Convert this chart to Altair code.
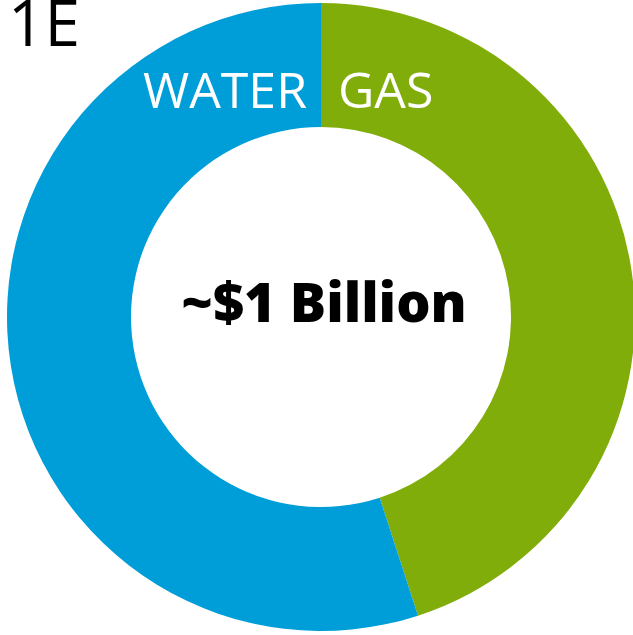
import altair as alt
import pandas as pd

categories = ["GAS", "WATER"]
shares = [45, 55]
colors = ["#80AD09", "#009ED8"]
center_label = "~$1 Billion"
panel_label = "1E"

df = pd.DataFrame({"category": categories, "share": shares, "order": [0, 1]})

base = alt.Chart(df)

donut = base.mark_arc(radius=314, radius2=190, stroke=None).encode(
    theta=alt.Theta("share:Q", stack=True),
    order=alt.Order("order:Q"),
    color=alt.Color("category:N", scale=alt.Scale(domain=categories, range=colors), legend=None),
    x=alt.value(321),
    y=alt.value(317),
)

water = alt.Chart(pd.DataFrame({"t": ["WATER"]})).mark_text(
    font="Open Sans", fontSize=50, color="white", align="right", baseline="alphabetic"
).encode(text="t:N", x=alt.value(307), y=alt.value(108))
gas = alt.Chart(pd.DataFrame({"t": ["GAS"]})).mark_text(
    font="Open Sans", fontSize=50, color="white", align="left", baseline="alphabetic"
).encode(text="t:N", x=alt.value(338), y=alt.value(108))
center = alt.Chart(pd.DataFrame({"t": [center_label]})).mark_text(
    font="Open Sans", fontSize=54, fontWeight=800, color="black", align="center", baseline="alphabetic"
).encode(text="t:N", x=alt.value(324), y=alt.value(322))
panel = alt.Chart(pd.DataFrame({"t": [panel_label]})).mark_text(
    font="Open Sans", fontSize=64, color="black", align="left", baseline="alphabetic"
).encode(text="t:N", x=alt.value(8), y=alt.value(46))

chart = alt.layer(donut, water, gas, center, panel).properties(
    width=633, height=635, autosize=alt.AutoSizeParams(type="none"), padding=0
).configure_view(stroke=None)

chart.save("out.html", embed_options={"renderer": "svg", "actions": False})
